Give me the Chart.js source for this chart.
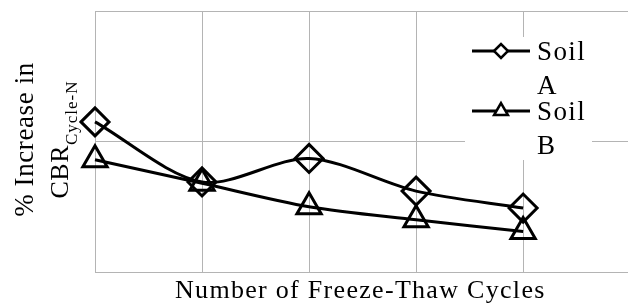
<!DOCTYPE html>
<html>
<head>
<meta charset="utf-8">
<script src="https://cdn.jsdelivr.net/npm/chart.js@4/dist/chart.umd.min.js"></script>
<style>
  html, body { margin: 0; padding: 0; background: #fff; }
  #wrap { width: 628px; height: 305px; position: relative; }
</style>
</head>
<body>
<div id="wrap"><canvas id="c"></canvas></div>
<script>
// Data (axis has no printed ticks)
const cycleIndex = [0, 1, 2, 3, 4];
const soilA = [1.15, 0.69, 0.87, 0.62, 0.49];
const soilB = [0.86, 0.68, 0.50, 0.40, 0.31];
const seriesNames = [["Soil", "A"], ["Soil", "B"]];
const xTitle = "Number of Freeze-Thaw Cycles";
const yTitleLine1 = "% Increase in";
const yTitleMain = "CBR";
const yTitleSub = "Cycle-N";

const GRID = '#b4b4b4';
const SERIF = "'Liberation Serif', 'Times New Roman', serif";

const titlesAndLegend = {
  id: 'titlesAndLegend',
  afterDraw(chart) {
    const ctx = chart.ctx;
    const area = chart.chartArea;
    ctx.save();
    ctx.fillStyle = '#000';
    ctx.textBaseline = 'alphabetic';

    // X axis title
    ctx.font = "26px " + SERIF;
    ctx.letterSpacing = '1.3px';
    ctx.textAlign = 'left';
    ctx.fillText(xTitle, 175, 298);

    // Y axis title (rotated)
    const cy = (area.top + area.bottom) / 2 - 2;
    ctx.save();
    ctx.translate(33, cy);
    ctx.rotate(-Math.PI / 2);
    ctx.textAlign = 'center';
    ctx.font = "27px " + SERIF;
    ctx.letterSpacing = '0.6px';
    ctx.fillText(yTitleLine1, 0, 0);
    ctx.restore();

    ctx.save();
    ctx.font = "26px " + SERIF;
    ctx.letterSpacing = '0.5px';
    const wMain = ctx.measureText(yTitleMain).width;
    ctx.font = "17px " + SERIF;
    ctx.letterSpacing = '1px';
    const wSub = ctx.measureText(yTitleSub).width;
    const total = wMain + wSub;
    ctx.translate(68, cy);
    ctx.rotate(-Math.PI / 2);
    ctx.textAlign = 'left';
    ctx.font = "26px " + SERIF;
    ctx.letterSpacing = '0.5px';
    ctx.fillText(yTitleMain, -total / 2, 0);
    ctx.font = "17px " + SERIF;
    ctx.letterSpacing = '1px';
    ctx.fillText(yTitleSub, -total / 2 + wMain, 9);
    ctx.restore();

    // Legend box
    ctx.letterSpacing = '0px';
    ctx.fillStyle = '#fff';
    ctx.fillRect(465, 37, 127, 123);
    const entries = [
      { y: 51, style: 'rectRot', r: 7, names: seriesNames[0] },
      { y: 111, style: 'triangle', r: 8, names: seriesNames[1] }
    ];
    entries.forEach(e => {
      ctx.strokeStyle = '#000';
      ctx.lineWidth = 3;
      ctx.beginPath();
      ctx.moveTo(472, e.y);
      ctx.lineTo(530, e.y);
      ctx.stroke();
      ctx.fillStyle = '#fff';
      ctx.lineWidth = 2.5;
      ctx.letterSpacing = '0px';
      Chart.helpers.drawPoint(ctx, { pointStyle: e.style, radius: e.r, borderWidth: 2.5, rotation: 0 }, 501, e.y);
      ctx.fillStyle = '#000';
      ctx.font = "27px " + SERIF;
      ctx.letterSpacing = '1.4px';
      ctx.textAlign = 'left';
      ctx.fillText(e.names[0], 537, e.y + 9);
      ctx.fillText(e.names[1], 537, e.y + 43);
    });
    ctx.restore();
  }
};

new Chart(document.getElementById('c'), {
  type: 'line',
  data: {
    datasets: [
      {
        label: 'Soil A',
        data: cycleIndex.map((x, i) => ({ x: x, y: soilA[i] })),
        borderColor: '#000',
        borderWidth: 3,
        tension: 0.3,
        pointStyle: 'rectRot',
        pointRadius: 14,
        pointBorderWidth: 3,
        pointBorderColor: '#000',
        pointBackgroundColor: 'rgba(0,0,0,0)',
        fill: false,
        clip: false
      },
      {
        label: 'Soil B',
        data: cycleIndex.map((x, i) => ({ x: x, y: soilB[i] })),
        borderColor: '#000',
        borderWidth: 3,
        tension: 0.3,
        pointStyle: 'triangle',
        pointRadius: 14,
        pointBorderWidth: 3,
        pointBorderColor: '#000',
        pointBackgroundColor: 'rgba(0,0,0,0)',
        fill: false,
        clip: false
      }
    ]
  },
  options: {
    responsive: true,
    maintainAspectRatio: false,
    animation: false,
    layout: { autoPadding: false, padding: { left: 95, top: 11, right: 0, bottom: 33 } },
    plugins: {
      legend: { display: false },
      tooltip: { enabled: false }
    },
    scales: {
      x: {
        type: 'linear',
        min: 0,
        max: 4.98,
        afterBuildTicks: (axis) => { axis.ticks = axis.ticks.filter(t => Number.isInteger(t.value)); },
        ticks: { display: false, stepSize: 1 },
        grid: { color: GRID, lineWidth: 1, drawTicks: false },
        border: { color: GRID, width: 1 }
      },
      y: {
        min: 0,
        max: 2,
        ticks: { display: false, stepSize: 1 },
        grid: { color: GRID, lineWidth: 1, drawTicks: false },
        border: { color: GRID, width: 1 }
      }
    }
  },
  plugins: [titlesAndLegend]
});
</script>
</body>
</html>
